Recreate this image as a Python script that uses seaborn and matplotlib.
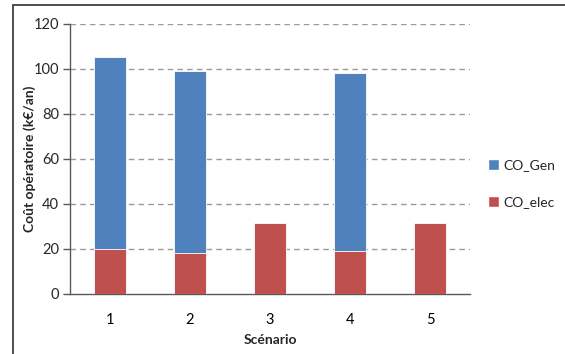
import seaborn as sns
import pandas as pd
import matplotlib.pyplot as plt
from matplotlib.patches import Patch, Rectangle

# Values (k€/an).
scenarios = ["1", "2", "3", "4", "5"]
co_elec = [19.6, 18.2, 31.4, 18.8, 31.4]
co_gen = [85.6, 80.6, 0.0, 79.4, 0.0]
y_ticks = [0, 20, 40, 60, 80, 100, 120]

blue = "#4F81BD"
red = "#C0504D"

sns.set_theme(style="white")
plt.rcParams['font.family'] = ['Lato', 'DejaVu Sans']

df = pd.DataFrame({"scenario": scenarios, "elec": co_elec, "gen": co_gen})
df["total"] = df["elec"] + df["gen"]

fig = plt.figure(figsize=(5.65, 3.54), dpi=100)
ax = fig.add_axes([70 / 565, 1 - 293.5 / 354, 400 / 565, 270 / 354])

# Stacked bars: total in blue, electricity drawn on top from zero.
sns.barplot(data=df, x="scenario", y="total", color=blue, width=0.41,
            edgecolor="white", linewidth=0.6, saturation=1, ax=ax, zorder=3)
sns.barplot(data=df, x="scenario", y="elec", color=red, width=0.41,
            edgecolor="white", linewidth=0.6, saturation=1, ax=ax, zorder=3)

ax.set_xlim(-0.5, 4.5)
ax.set_ylim(0, 120)
ax.set_yticks(y_ticks)
for t in y_ticks[1:]:
    ax.axhline(t, color="#9a9a9a", linestyle=(0, (4, 3)), linewidth=1, zorder=1)

ax.set_xticks(range(5), minor=False)
ax.set_xticks([i - 0.5 for i in range(6)], minor=True)
ax.tick_params(axis="x", which="major", length=0, pad=14, labelsize=10.5, colors="black")
ax.tick_params(axis="x", which="minor", length=5, width=1, color="#595959", direction="out")
ax.tick_params(axis="y", length=5, width=1, color="#595959", direction="out",
               labelsize=10.5, pad=3, left=True)

for s in ["top", "right"]:
    ax.spines[s].set_visible(False)
for s in ["left", "bottom"]:
    ax.spines[s].set_color("#595959")
    ax.spines[s].set_linewidth(1)

ax.set_xlabel("Scénario", fontsize=10, fontweight="bold")
ax.set_ylabel("Coût opératoire (k€/an)", fontsize=10, fontweight="bold")
ax.xaxis.set_label_coords(0.5, -40 / 270)
ax.yaxis.set_label_coords(-34 / 400, 0.5)

handles = [Patch(facecolor=blue, label="CO_Gen"), Patch(facecolor=red, label="CO_elec")]
fig.legend(handles=handles, loc="upper left", bbox_to_anchor=(488 / 565, 1 - 159 / 354),
           frameon=False, fontsize=10, handlelength=0.8, handleheight=0.8,
           handletextpad=0.3, labelspacing=1.8, borderpad=0, borderaxespad=0)

# Outer chart border.
fig.patches.append(Rectangle((13 / 565, -0.1), 1.2, 1 - 5 / 354 + 0.1,
                             transform=fig.transFigure, fill=False,
                             edgecolor="#404040", linewidth=1.3))

fig.savefig("out.png", dpi=100)
